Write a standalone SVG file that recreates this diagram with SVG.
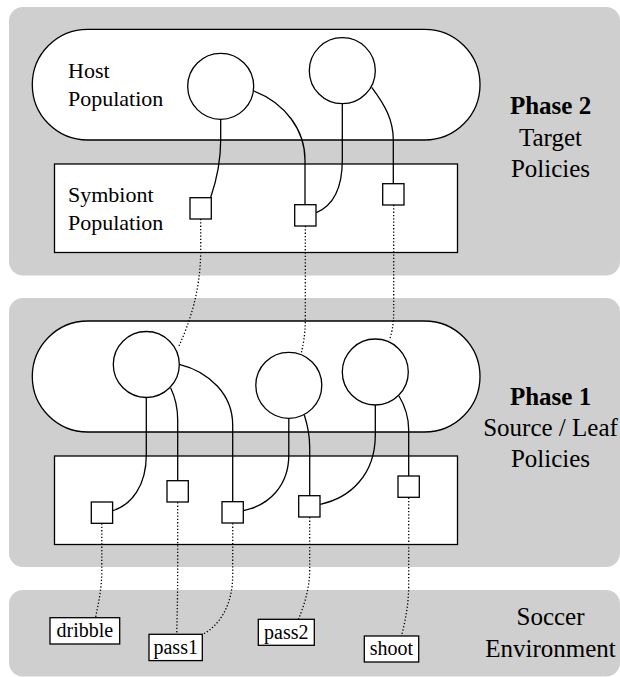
<svg xmlns="http://www.w3.org/2000/svg" width="620" height="677" viewBox="0 0 620 677">
<style>
.panel{fill:#cfcfcf;stroke:none}
.box{fill:#fff;stroke:#000;stroke-width:1.3}
.sq{fill:#fff;stroke:#000;stroke-width:1.3}
.lbl{fill:#fff;stroke:#000;stroke-width:1.3}
.c{fill:none;stroke:#000;stroke-width:1.3}
.d{fill:none;stroke:#000;stroke-width:1.3;stroke-dasharray:1.3 2}
.tx{font-family:'Liberation Serif','Times New Roman','DejaVu Serif',serif;fill:#000}
.t22{font-size:22px}
.t25{font-size:25px;text-anchor:middle}
.b{font-weight:bold}
.t20{font-size:20px;text-anchor:middle}
</style>
<g id="panel-phase2"><rect class="panel" x="9" y="7" width="611" height="268.5" rx="14"/></g>
<g id="panel-phase1"><rect class="panel" x="9" y="298" width="611" height="269" rx="14"/></g>
<g id="panel-env"><rect class="panel" x="9" y="590" width="611" height="86.5" rx="14"/></g>

<g id="host-pop-2"><rect class="box" x="32.3" y="29.3" width="447.7" height="110.7" rx="55.3"/>
<text class="tx t22" x="68" y="77.5">Host</text><text class="tx t22" x="68" y="106">Population</text></g>
<g id="symb-pop-2"><rect class="box" x="54.5" y="164" width="403" height="88.5"/>
<text class="tx t22" x="68" y="201.5">Symbiont</text><text class="tx t22" x="68" y="230">Population</text></g>
<g id="host-pop-1"><rect class="box" x="32.3" y="321" width="447.7" height="111" rx="55.5"/></g>
<g id="symb-pop-1"><rect class="box" x="54.5" y="456" width="403" height="88.5"/></g>

<g id="label-phase2"><text class="tx t25 b" x="550.5" y="114">Phase 2</text><text class="tx t25" x="550.5" y="145.5">Target</text><text class="tx t25" x="550.5" y="177">Policies</text></g>
<g id="label-phase1"><text class="tx t25 b" x="550.5" y="404.5">Phase 1</text><text class="tx t25" x="550.5" y="436">Source / Leaf</text><text class="tx t25" x="550.5" y="467">Policies</text></g>
<g id="label-env"><text class="tx t25" x="550.5" y="625">Soccer</text><text class="tx t25" x="550.5" y="656.5">Environment</text></g>

<g id="connectors">
<path class="c" d="M220.7,119.3 V140 C220.7,165 216,182 210.5,198"/>
<path class="c" d="M254,91 C285,103 305,130 305,160 V205"/>
<path class="c" d="M342.3,103.7 V160 C342.3,190 332,206 316.3,212.7"/>
<path class="c" d="M371.7,87.3 C385,105 393.3,120 393.3,140 V184"/>
<path class="d" d="M200.7,219 V250 C200.7,290 190,322 178.5,347"/>
<path class="d" d="M305.3,226 V320 C305.3,335 303,345 301.3,353"/>
<path class="d" d="M393.7,205 V310 C393.7,325 392,332 389.5,340"/>
<path class="c" d="M146.3,397.5 V455 C146.3,485 132,505 112.7,510.7"/>
<path class="c" d="M170.7,388 C175,397 177.7,408 177.7,420 V481"/>
<path class="c" d="M179.3,364.3 C210,372 232.7,395 232.7,425 V502"/>
<path class="c" d="M288.8,418.5 V455 C288.8,485 270,505 243.3,510.7"/>
<path class="c" d="M304.3,415 C307.5,425 309.7,437 309.7,447 V496"/>
<path class="c" d="M375.3,405 V435 C375.3,475 350,498 320.3,504.3"/>
<path class="c" d="M399,396 C405,406 408.7,418 408.7,430 V476"/>
<path class="d" d="M101.8,523.5 V570 C101.8,590 98,605 95.5,617.7"/>
<path class="d" d="M177.7,502.3 V560 C177.7,600 177,620 176.7,634.3"/>
<path class="d" d="M232.7,523.3 V575 C232.7,605 220,625 202.5,634.5"/>
<path class="d" d="M309.7,517.3 V570 C309.7,590 303,608 298.5,619.3"/>
<path class="d" d="M408.7,497.7 V585 C408.7,605 405,622 401.5,636"/>
</g>

<g id="h2a"><circle class="box" cx="220.7" cy="86.3" r="33"/></g>
<g id="h2b"><circle class="box" cx="342.3" cy="70.7" r="33"/></g>
<g id="h1a"><circle class="box" cx="146.3" cy="364.5" r="33"/></g>
<g id="h1b"><circle class="box" cx="288.8" cy="385.3" r="33"/></g>
<g id="h1c"><circle class="box" cx="375.3" cy="372" r="33"/></g>

<g id="s2a"><rect class="sq" x="190" y="197.7" width="21.3" height="21.3"/></g>
<g id="s2b"><rect class="sq" x="294.7" y="204.7" width="21.3" height="21.3"/></g>
<g id="s2c"><rect class="sq" x="382.7" y="183.7" width="21.3" height="21.3"/></g>
<g id="s1a"><rect class="sq" x="91.3" y="502" width="21.3" height="21.3"/></g>
<g id="s1b"><rect class="sq" x="167" y="480.7" width="21.3" height="21.3"/></g>
<g id="s1c"><rect class="sq" x="222" y="501.7" width="21.3" height="21.3"/></g>
<g id="s1d"><rect class="sq" x="298.7" y="495.7" width="21.3" height="21.3"/></g>
<g id="s1e"><rect class="sq" x="398" y="476" width="21.3" height="21.3"/></g>

<g id="dribble"><rect class="lbl" x="50" y="617.7" width="69.7" height="26.3"/><text class="tx t20" x="84.8" y="637">dribble</text></g>
<g id="pass1"><rect class="lbl" x="149" y="634.3" width="53.3" height="26.3"/><text class="tx t20" x="175.7" y="653.5">pass1</text></g>
<g id="pass2"><rect class="lbl" x="258.3" y="619.3" width="56" height="26"/><text class="tx t20" x="286.3" y="638.5">pass2</text></g>
<g id="shoot"><rect class="lbl" x="364.3" y="636" width="54.4" height="26"/><text class="tx t20" x="391.5" y="655">shoot</text></g>
</svg>
